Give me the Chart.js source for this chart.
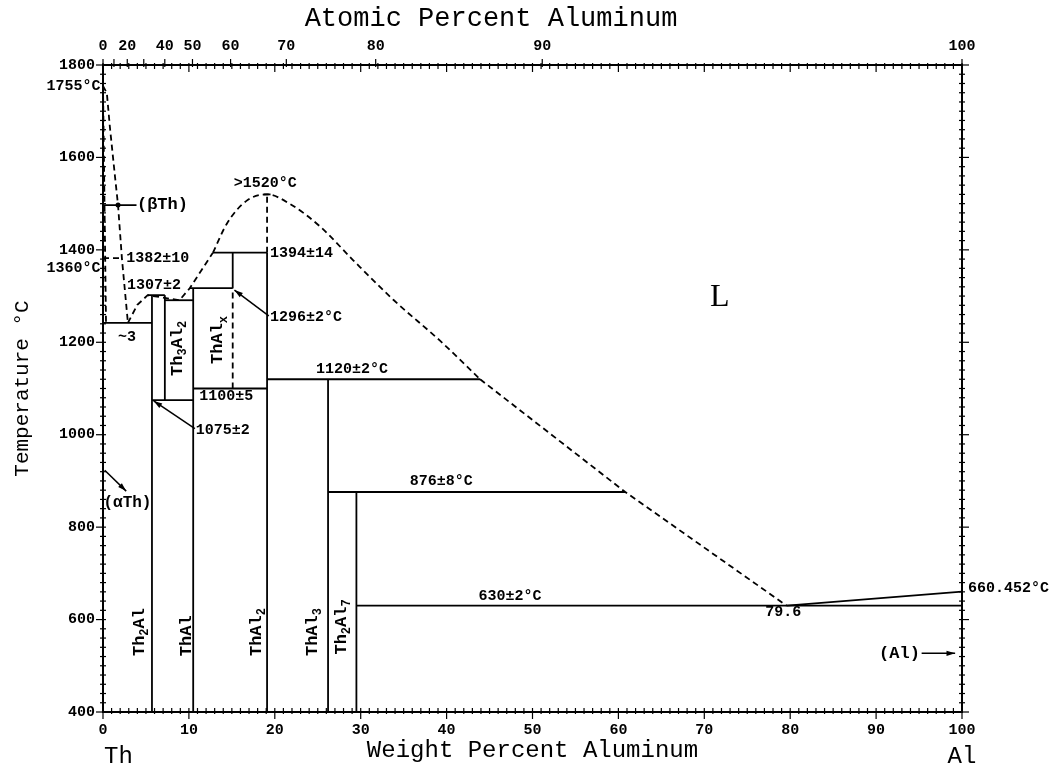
<!DOCTYPE html>
<html>
<head>
<meta charset="utf-8">
<script src="https://cdn.jsdelivr.net/npm/chart.js@4.4.1/dist/chart.umd.min.js"></script>
<style>
  html, body { margin: 0; padding: 0; background: #fff; }
  #wrap { width: 1054px; height: 771px; }
</style>
</head>
<body>
<div id="wrap"><canvas id="chart"></canvas></div>
<script>
// axis tick labels
const wtTicks = [0, 10, 20, 30, 40, 50, 60, 70, 80, 90, 100];
const atTicks = [0, 20, 40, 50, 60, 70, 80, 90, 100];
const atMajor = [0, 10, 20, 30, 40, 50, 60, 70, 80, 90, 100];
const tempTicks = [400, 600, 800, 1000, 1200, 1400, 1600, 1800];

// phase boundaries, [wt% Al, °C]
const liquidusTh = [[0, 1755], [0.45, 1739], [0.8, 1666], [1.4, 1558], [1.75, 1497], [2.2, 1382], [2.9, 1242]];
const solidusTh = [[0, 1755], [0.35, 1242]];
const betaAlpha = [[0, 1382], [2.2, 1382]];
const liquidusLow = [[2.9, 1242], [4.0, 1281], [5.2, 1302], [7.2, 1296], [8.9, 1291], [10.1, 1317],
  [11.5, 1357], [12.8, 1394]];
const liquidusDome = [[12.8, 1394], [14.4, 1456], [16.7, 1506], [19.1, 1520], [21.8, 1499], [25.3, 1450],
  [29.1, 1378], [33.8, 1292], [39.2, 1204], [43.9, 1120]];
const liquidusHigh = [[43.9, 1120], [60.8, 876], [79.6, 630]];
const liquidusAl = [[79.6, 630], [100, 660.452]];

// compounds (vertical lines)
const compoundWt = [5.7, 7.2, 10.5, 15.1, 19.1, 26.2, 29.5];
const compoundBottom = [400, 1075, 400, 1317, 400, 400, 400];
const compoundTop = [1302, 1302, 1317, 1394, 1394, 1120, 876];
const dashedBottom = [null, null, null, 1100, 1394, null, null];
const dashedTop = [null, null, null, 1317, 1520, null, null];

// invariant (horizontal) lines
const invT = [1242, 1302, 1291, 1317, 1394, 1100, 1075, 1120, 876, 630];
const invFrom = [0, 5.2, 7.2, 10.1, 12.8, 10.5, 5.7, 19.1, 26.2, 29.5];
const invTo = [5.7, 7.2, 10.5, 15.1, 19.1, 19.1, 10.5, 43.9, 60.8, 100];

const mono = '"Liberation Mono", monospace';

// text notes, anchored in data coords
const notes = [
  { t: '1755°C', x: -0.3, y: 1755, align: 'right' },
  { t: '1360°C', x: -0.3, y: 1360, align: 'right' },
  { t: '(βTh)', x: 3.95, y: 1497, size: 17 },
  { t: '1382±10', x: 2.7, y: 1382 },
  { t: '~3', x: 1.75, y: 1211 },
  { t: '1307±2', x: 2.8, y: 1324 },
  { t: '1100±5', x: 11.2, y: 1084 },
  { t: '1075±2', x: 10.8, y: 1010 },
  { t: '>1520°C', x: 18.9, y: 1545, align: 'center' },
  { t: '1394±14', x: 19.45, y: 1393 },
  { t: '1296±2°C', x: 19.45, y: 1255 },
  { t: '1120±2°C', x: 24.8, y: 1142 },
  { t: '876±8°C', x: 35.7, y: 900 },
  { t: '630±2°C', x: 43.7, y: 651 },
  { t: '79.6', x: 79.2, y: 616, align: 'center' },
  { t: '660.452°C', x: 100.7, y: 668 },
  { t: '(Al)', x: 95.1, y: 527, align: 'right', size: 17 },
  { t: '(αTh)', x: 0.05, y: 852, size: 16 },
  { t: 'L', x: 71.8, y: 1296, align: 'center', size: 32, family: '"Liberation Serif", serif', weight: 'normal' }
];

const compoundLabels = [
  { parts: [['Th', 0], ['2', 1], ['Al', 0]], x: 4.3, y: 573 },
  { parts: [['Th', 0], ['3', 1], ['Al', 0], ['2', 1]], x: 8.7, y: 1187 },
  { parts: [['ThAl', 0], ['x', 1]], x: 13.4, y: 1205 },
  { parts: [['ThAl', 0]], x: 9.8, y: 565 },
  { parts: [['ThAl', 0], ['2', 1]], x: 17.9, y: 573 },
  { parts: [['ThAl', 0], ['3', 1]], x: 24.4, y: 573 },
  { parts: [['Th', 0], ['2', 1], ['Al', 0], ['7', 1]], x: 27.8, y: 584 }
];

// leader arrows [from, to] in data coords
const arrows = [
  [[10.7, 1013], [5.9, 1073]],
  [[19.3, 1257], [15.3, 1313]],
  [[0.2, 923], [2.7, 878]],
  [[95.3, 527], [99.2, 527]]
];

function seg(points, dashed, smooth) {
  return {
    data: points.map(([x, y]) => ({ x, y })),
    showLine: true,
    borderColor: '#000',
    borderWidth: 1.8,
    borderDash: dashed ? [6, 4] : [],
    pointRadius: 0,
    fill: false,
    tension: smooth ? 0.4 : 0,
    cubicInterpolationMode: smooth ? 'monotone' : 'default'
  };
}

const datasets = [];
datasets.push(seg(liquidusTh, true));
datasets.push(seg(solidusTh, true));
datasets.push(seg(betaAlpha, true));
datasets.push(seg(liquidusLow, true));
datasets.push(seg(liquidusDome, true, true));
datasets.push(seg(liquidusHigh, true));
datasets.push(seg(liquidusAl, false));
compoundWt.forEach((w, i) => {
  datasets.push(seg([[w, compoundBottom[i]], [w, compoundTop[i]]], false));
  if (dashedBottom[i] !== null) datasets.push(seg([[w, dashedBottom[i]], [w, dashedTop[i]]], true));
});
invT.forEach((t, i) => datasets.push(seg([[invFrom[i], t], [invTo[i], t]], false)));
datasets.push(seg([[18.7, 1520], [19.5, 1520]], false));
datasets.push(seg([[0, 1497], [3.9, 1497]], false));

// atomic % -> weight % Al
const atToWt = (a) => 100 * a * 26.98 / (a * 26.98 + (100 - a) * 232.04);

function drawParts(ctx, parts, size) {
  const big = `bold ${size}px ${mono}`;
  const small = `bold ${Math.round(size * 0.72)}px ${mono}`;
  let total = 0;
  const widths = parts.map(([s, sub]) => {
    ctx.font = sub ? small : big;
    const w = ctx.measureText(s).width;
    total += w;
    return w;
  });
  let x = -total / 2;
  ctx.textAlign = 'left';
  ctx.textBaseline = 'middle';
  parts.forEach(([s, sub], i) => {
    ctx.font = sub ? small : big;
    ctx.fillText(s, x, sub ? size * 0.32 : 0);
    x += widths[i];
  });
}

const decor = {
  id: 'decor',
  afterDraw(chart) {
    const { ctx, chartArea: a, scales } = chart;
    const sx = scales.x, sy = scales.y;
    ctx.save();
    ctx.strokeStyle = '#000';
    ctx.fillStyle = '#000';
    ctx.lineWidth = 1.2;
    const line = (x1, y1, x2, y2) => { ctx.beginPath(); ctx.moveTo(x1, y1); ctx.lineTo(x2, y2); ctx.stroke(); };

    // wt% ticks, bottom and top
    for (let v = 0; v <= 100; v++) {
      const px = sx.getPixelForValue(v);
      const major = v % 10 === 0;
      line(px, a.bottom - 4, px, a.bottom + (major ? 7 : 2));
      line(px, a.top - 2, px, a.top + (major ? 7 : 4));
    }
    // at% ticks, top
    atMajor.forEach(at => {
      const px = sx.getPixelForValue(atToWt(at));
      line(px, a.top - 6, px, a.top + 2);
    });
    // temperature ticks, left and right
    for (let t = 400; t <= 1800; t += 20) {
      const py = sy.getPixelForValue(t);
      const major = t % 200 === 0;
      line(a.left - (major ? 7 : 3), py, a.left + 3, py);
      line(a.right - 3, py, a.right + (major ? 7 : 3), py);
    }

    // arrows
    ctx.lineWidth = 1.5;
    arrows.forEach(([p, q]) => {
      const x1 = sx.getPixelForValue(p[0]), y1 = sy.getPixelForValue(p[1]);
      const x2 = sx.getPixelForValue(q[0]), y2 = sy.getPixelForValue(q[1]);
      line(x1, y1, x2, y2);
      const ang = Math.atan2(y2 - y1, x2 - x1);
      ctx.beginPath();
      ctx.moveTo(x2, y2);
      ctx.lineTo(x2 - 9 * Math.cos(ang - 0.3), y2 - 9 * Math.sin(ang - 0.3));
      ctx.lineTo(x2 - 9 * Math.cos(ang + 0.3), y2 - 9 * Math.sin(ang + 0.3));
      ctx.closePath();
      ctx.fill();
    });
    // marker on the beta-Th leader
    ctx.beginPath();
    ctx.arc(sx.getPixelForValue(1.75), sy.getPixelForValue(1497), 2.5, 0, Math.PI * 2);
    ctx.fill();

    // notes
    ctx.textBaseline = 'middle';
    notes.forEach(n => {
      const size = n.size || 15;
      ctx.font = `${n.weight || 'bold'} ${size}px ${n.family || mono}`;
      ctx.textAlign = n.align || 'left';
      ctx.fillText(n.t, sx.getPixelForValue(n.x), sy.getPixelForValue(n.y));
    });

    // compound names, rotated
    compoundLabels.forEach(c => {
      ctx.save();
      ctx.translate(sx.getPixelForValue(c.x), sy.getPixelForValue(c.y));
      ctx.rotate(-Math.PI / 2);
      drawParts(ctx, c.parts, 17);
      ctx.restore();
    });

    // axis title on top and end-member names
    ctx.textBaseline = 'middle';
    ctx.textAlign = 'center';
    ctx.font = `27px ${mono}`;
    ctx.fillText('Atomic Percent Aluminum', 491, 19);
    ctx.font = `24px ${mono}`;
    ctx.textAlign = 'left';
    ctx.fillText('Th', 104, 757);
    ctx.textAlign = 'center';
    ctx.fillText('Al', 962, 757);
    ctx.restore();
  }
};

new Chart(document.getElementById('chart'), {
  type: 'scatter',
  data: { datasets },
  options: {
    responsive: true,
    maintainAspectRatio: false,
    animation: false,
    layout: { padding: 0 },
    plugins: { legend: { display: false }, tooltip: { enabled: false } },
    scales: {
      x: {
        type: 'linear', position: 'bottom', min: 0, max: 100,
        afterBuildTicks: (s) => { s.ticks = wtTicks.map(v => ({ value: v })); },
        ticks: { autoSkip: false, maxRotation: 0, color: '#000', padding: 9, font: { family: mono, size: 15, weight: 'bold' },
          callback: (v) => String(v) },
        grid: { display: false, drawTicks: false },
        border: { display: true, color: '#000', width: 2 },
        title: { display: true, text: 'Weight Percent Aluminum', color: '#000', font: { family: mono, size: 24 }, padding: { top: 0, bottom: 6 } },
        afterFit: (s) => { s.height = 59; }
      },
      x2: {
        type: 'linear', position: 'top', min: 0, max: 100,
        afterBuildTicks: (s) => { s.ticks = atTicks.map(a => ({ value: atToWt(a) })); },
        ticks: { autoSkip: false, maxRotation: 0, color: '#000', padding: 10, font: { family: mono, size: 15, weight: 'bold' },
          callback: (v, i) => String(atTicks[i]) },
        grid: { display: false, drawTicks: false },
        border: { display: true, color: '#000', width: 2 },
        afterFit: (s) => { s.height = 65; }
      },
      y: {
        type: 'linear', position: 'left', min: 400, max: 1800,
        afterBuildTicks: (s) => { s.ticks = tempTicks.map(v => ({ value: v })); },
        ticks: { color: '#000', padding: 8, font: { family: mono, size: 15, weight: 'bold' },
          callback: (v) => String(v) },
        grid: { display: false, drawTicks: false },
        border: { display: true, color: '#000', width: 2 },
        title: { display: true, text: 'Temperature °C', color: '#000', font: { family: mono, size: 21 }, padding: { top: 10, bottom: 0 } },
        afterFit: (s) => { s.width = 103; }
      },
      y2: {
        type: 'linear', position: 'right', min: 400, max: 1800,
        ticks: { display: false },
        grid: { display: false, drawTicks: false },
        border: { display: true, color: '#000', width: 2 },
        afterFit: (s) => { s.width = 92; }
      }
    }
  },
  plugins: [decor]
});
</script>
</body>
</html>
